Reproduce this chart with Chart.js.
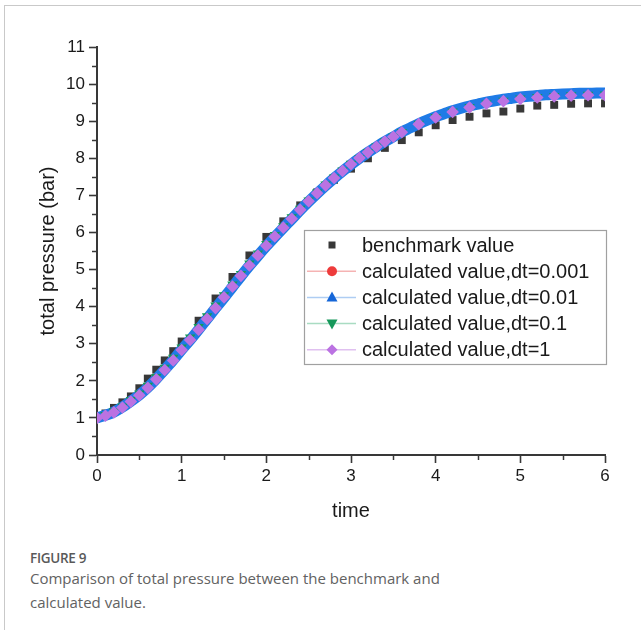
<!DOCTYPE html>
<html>
<head>
<meta charset="utf-8">
<script src="https://cdn.jsdelivr.net/npm/chart.js@4/dist/chart.umd.min.js"></script>
<style>
html,body{margin:0;padding:0;background:#fff;}
body{width:641px;height:630px;position:relative;overflow:hidden;}
#frameTop{position:absolute;left:4px;top:5px;width:637px;height:1px;background:#c9c9c9;}
#frameLeft{position:absolute;left:4px;top:5px;width:1px;height:625px;background:#c9c9c9;}
#wrap{position:absolute;left:0;top:0;width:641px;height:540px;}
#cap{position:absolute;left:30px;top:550px;font-family:"Open Sans",sans-serif;}
.fig{font-size:13.5px;font-weight:600;color:#595959;line-height:16px;letter-spacing:-0.3px;}
.txt{font-size:15px;line-height:24px;color:#626262;}
</style>
</head>
<body>
<div id="frameTop"></div>
<div id="frameLeft"></div>
<div id="wrap"><canvas id="c" width="641" height="540"></canvas></div>
<div id="cap">
  <div class="fig">FIGURE 9</div>
  <div class="txt">Comparison of total pressure between the benchmark and<br>calculated value.</div>
</div>
<script>
// ---------------- DATA ----------------
const xTicks = [0, 1, 2, 3, 4, 5, 6];
const yTicks = [0, 1, 2, 3, 4, 5, 6, 7, 8, 9, 10, 11];
const xMinor = [0.5, 1.5, 2.5, 3.5, 4.5, 5.5];
const yMinor = [0.5, 1.5, 2.5, 3.5, 4.5, 5.5, 6.5, 7.5, 8.5, 9.5, 10.5];

const seriesNames = ["benchmark value", "calculated value,dt=0.001", "calculated value,dt=0.01",
                     "calculated value,dt=0.1", "calculated value,dt=1"];

// benchmark (squares)
const benchT = [0, 0.1, 0.2, 0.3, 0.4, 0.5, 0.6, 0.7, 0.8, 0.9, 1.0, 1.2, 1.4, 1.6, 1.8, 2.0,
                2.2, 2.4, 2.6, 2.8, 3.0, 3.2, 3.4, 3.6, 3.8, 4.0, 4.2, 4.4, 4.6, 4.8, 5.0,
                5.2, 5.4, 5.6, 5.8, 6.0];
const benchP = [1.00, 1.12, 1.27, 1.42, 1.58, 1.80, 2.06, 2.30, 2.55, 2.80, 3.06, 3.62, 4.22, 4.80, 5.38, 5.88,
                6.30, 6.73, 7.08, 7.42, 7.72, 8.00, 8.28, 8.49, 8.70, 8.89, 9.03, 9.12, 9.21, 9.26, 9.34,
                9.42, 9.44, 9.47, 9.48, 9.48];

// calculated curves (dt=0.001 and dt=0.01 lines)
const calcT = [0, 0.1, 0.2, 0.3, 0.4, 0.5, 0.6, 0.7, 0.8, 0.9, 1.0, 1.1, 1.2, 1.3, 1.4, 1.5, 1.6, 1.7, 1.8, 1.9,
               2.0, 2.1, 2.2, 2.3, 2.4, 2.5, 2.6, 2.7, 2.8, 2.9, 3.0, 3.1, 3.2, 3.3, 3.4, 3.5, 3.6, 3.7, 3.8, 3.9,
               4.0, 4.1, 4.2, 4.3, 4.4, 4.5, 4.6, 4.7, 4.8, 4.9, 5.0, 5.1, 5.2, 5.3, 5.4, 5.5, 5.6, 5.7, 5.8, 5.9, 6.0];
const calc001 = [1.00, 1.07, 1.16, 1.29, 1.45, 1.62, 1.82, 2.05, 2.30, 2.56, 2.84, 3.10, 3.38, 3.67, 3.96, 4.24, 4.53, 4.82, 5.10, 5.37,
                 5.63, 5.88, 6.12, 6.36, 6.60, 6.83, 7.05, 7.26, 7.46, 7.65, 7.83, 8.00, 8.16, 8.31, 8.45, 8.58, 8.71, 8.82, 8.93, 9.03,
                 9.12, 9.20, 9.28, 9.35, 9.41, 9.46, 9.51, 9.55, 9.59, 9.62, 9.65, 9.67, 9.69, 9.71, 9.72, 9.73, 9.74, 9.75, 9.75, 9.76, 9.76];
const calc01  = [1.00, 1.07, 1.16, 1.29, 1.45, 1.62, 1.82, 2.05, 2.30, 2.56, 2.84, 3.10, 3.38, 3.67, 3.96, 4.24, 4.53, 4.82, 5.10, 5.37,
                 5.63, 5.88, 6.12, 6.36, 6.60, 6.83, 7.05, 7.26, 7.46, 7.65, 7.83, 8.00, 8.16, 8.31, 8.45, 8.58, 8.71, 8.82, 8.93, 9.03,
                 9.12, 9.20, 9.28, 9.35, 9.41, 9.46, 9.51, 9.55, 9.59, 9.62, 9.65, 9.67, 9.69, 9.71, 9.72, 9.73, 9.74, 9.75, 9.75, 9.76, 9.76];

// markers of dt=0.1 (down triangles) and dt=1 (diamonds)
const markT = [0, 0.1, 0.2, 0.3, 0.4, 0.5, 0.6, 0.7, 0.8, 0.9, 1.0, 1.1, 1.2, 1.3, 1.4, 1.5, 1.6, 1.7, 1.8, 1.9,
               2.0, 2.1, 2.2, 2.3, 2.4, 2.5, 2.6, 2.7, 2.8, 2.9, 3.0, 3.1, 3.2, 3.3, 3.4, 3.5, 3.6,
               3.8, 4.0, 4.2, 4.4, 4.6, 4.8, 5.0, 5.2, 5.4, 5.6, 5.8, 6.0];
const dt01P = [1.00, 1.08, 1.18, 1.31, 1.48, 1.66, 1.87, 2.10, 2.35, 2.62, 2.90, 3.17, 3.45, 3.74, 4.03, 4.31, 4.60, 4.88, 5.16, 5.43,
               5.69, 5.93, 6.17, 6.41, 6.64, 6.86, 7.08, 7.29, 7.48, 7.67, 7.85, 8.01, 8.17, 8.32, 8.46, 8.59, 8.71,
               8.93, 9.11, 9.26, 9.38, 9.48, 9.55, 9.61, 9.65, 9.68, 9.70, 9.71, 9.72];
const dt1P  = [1.00, 1.06, 1.15, 1.28, 1.44, 1.61, 1.81, 2.04, 2.29, 2.55, 2.83, 3.10, 3.38, 3.67, 3.96, 4.25, 4.54, 4.83, 5.11, 5.38,
               5.64, 5.89, 6.13, 6.37, 6.61, 6.84, 7.06, 7.27, 7.47, 7.66, 7.84, 8.01, 8.16, 8.31, 8.45, 8.58, 8.70,
               8.92, 9.10, 9.25, 9.37, 9.47, 9.54, 9.60, 9.64, 9.67, 9.69, 9.70, 9.70];

// ---------------- STYLE ----------------
const FONT = "'Liberation Sans', Arial, sans-serif";
const AX = '#383838';
const C_BENCH = '#383838', C_RED = '#ee3b3b', C_BLUE = '#1f7be6', C_GREEN = '#15985a', C_PURP = '#bb72e2';
const LIGHT = ['', '#f5b3b3', '#aecdf3', '#a9dcc2', '#e0c0f0'];

const pts = (t, p) => t.map((v, i) => ({x: v, y: p[i]}));

const minorTicks = {
  id: 'minorTicks',
  afterDraw(chart) {
    const {ctx} = chart; const x = chart.scales.x, y = chart.scales.y;
    ctx.save(); ctx.strokeStyle = AX; ctx.lineWidth = 1.5;
    xMinor.forEach(v => { const px = Math.round(x.getPixelForValue(v)) + 0.5;
      ctx.beginPath(); ctx.moveTo(px, y.bottom); ctx.lineTo(px, y.bottom + 5); ctx.stroke(); });
    yMinor.forEach(v => { const py = Math.round(y.getPixelForValue(v)) + 0.5;
      ctx.beginPath(); ctx.moveTo(x.left, py); ctx.lineTo(x.left - 5, py); ctx.stroke(); });
    ctx.restore();
  }
};

function marker(ctx, kind, cx, cy, color) {
  ctx.fillStyle = color; ctx.beginPath();
  if (kind === 'rect') { ctx.rect(cx - 3.5, cy - 3.5, 7, 7); }
  else if (kind === 'circle') { ctx.arc(cx, cy, 5, 0, Math.PI * 2); }
  else if (kind === 'tri') { ctx.moveTo(cx, cy - 6); ctx.lineTo(cx + 5.5, cy + 4); ctx.lineTo(cx - 5.5, cy + 4); ctx.closePath(); }
  else if (kind === 'triDown') { ctx.moveTo(cx, cy + 6); ctx.lineTo(cx + 5.5, cy - 4); ctx.lineTo(cx - 5.5, cy - 4); ctx.closePath(); }
  else if (kind === 'diamond') { ctx.moveTo(cx, cy - 5.5); ctx.lineTo(cx + 5.5, cy); ctx.lineTo(cx, cy + 5.5); ctx.lineTo(cx - 5.5, cy); ctx.closePath(); }
  ctx.fill();
}

const legendBox = {
  id: 'legendBox',
  afterDraw(chart) {
    const {ctx} = chart;
    const bx = 304.5, by = 230.5, bw = 302, bh = 134;
    ctx.save();
    ctx.fillStyle = '#fff'; ctx.fillRect(bx, by, bw, bh);
    ctx.strokeStyle = '#a0a0a0'; ctx.lineWidth = 1.2; ctx.strokeRect(bx, by, bw, bh);
    const kinds = ['rect', 'circle', 'tri', 'triDown', 'diamond'];
    const cols = [C_BENCH, C_RED, '#1566d8', C_GREEN, C_PURP];
    ctx.font = "20px " + FONT; ctx.textBaseline = 'middle';
    seriesNames.forEach((name, i) => {
      const cy = 245 + i * 26.2;
      if (i > 0) { ctx.strokeStyle = LIGHT[i]; ctx.lineWidth = 1.5; ctx.beginPath(); ctx.moveTo(307, cy); ctx.lineTo(356, cy); ctx.stroke(); }
      marker(ctx, kinds[i], 332, cy, cols[i]);
      ctx.fillStyle = '#1a1a1a'; ctx.fillText(name, 362, cy + 1);
    });
    ctx.restore();
  }
};

new Chart(document.getElementById('c'), {
  type: 'scatter',
  data: {
    datasets: [
      {label: seriesNames[0], data: pts(benchT, benchP), showLine: false, pointStyle: 'rect', pointRadius: 5.6,
       backgroundColor: C_BENCH, borderColor: C_BENCH, borderWidth: 0, order: 5},
      {label: seriesNames[1], data: pts(calcT, calc001), showLine: true, borderColor: C_RED, borderWidth: 2,
       pointRadius: 0, order: 4},
      {label: seriesNames[2], data: pts(calcT, calc01), showLine: true, borderColor: C_BLUE, borderWidth: 11,
       pointRadius: 0, cubicInterpolationMode: 'monotone', order: 3},
      {label: seriesNames[3], data: pts(markT, dt01P), showLine: false, pointStyle: 'triangle', rotation: 180, pointRadius: 6,
       backgroundColor: C_GREEN, borderColor: C_GREEN, borderWidth: 0, order: 2},
      {label: seriesNames[4], data: pts(markT, dt1P), showLine: false, pointStyle: 'rectRot', pointRadius: 6.3,
       backgroundColor: C_PURP, borderColor: C_PURP, borderWidth: 0, order: 1}
    ]
  },
  options: {
    responsive: false, animation: false, events: [],
    layout: {padding: {left: 0, right: 36, top: 47, bottom: 0}},
    plugins: {legend: {display: false}, tooltip: {enabled: false}},
    scales: {
      x: {
        type: 'linear', min: 0, max: 6, position: 'bottom',
        afterFit(s) { s.height = 85; },
        afterBuildTicks(s) { s.ticks = xTicks.map(v => ({value: v})); },
        ticks: {color: '#1a1a1a', font: {family: FONT, size: 17}, padding: 3, maxRotation: 0, autoSkip: false},
        grid: {drawOnChartArea: false, drawTicks: true, tickLength: 8, color: AX, tickColor: AX, tickWidth: 1.6},
        border: {display: true, color: AX, width: 2},
        title: {display: true, text: 'time', color: '#1a1a1a', font: {family: FONT, size: 20}, padding: {top: 0, bottom: 17}}
      },
      y: {
        type: 'linear', min: 0, max: 11, position: 'left',
        afterFit(s) { s.width = 97; },
        afterBuildTicks(s) { s.ticks = yTicks.map(v => ({value: v})); },
        ticks: {color: '#1a1a1a', font: {family: FONT, size: 17}, padding: 4, autoSkip: false},
        grid: {drawOnChartArea: false, drawTicks: true, tickLength: 8, color: AX, tickColor: AX, tickWidth: 1.6},
        border: {display: true, color: AX, width: 2},
        title: {display: true, text: 'total pressure (bar)', color: '#1a1a1a', font: {family: FONT, size: 20}, padding: {top: 36, bottom: 0}}
      }
    }
  },
  plugins: [minorTicks, legendBox]
});
</script>
</body>
</html>
